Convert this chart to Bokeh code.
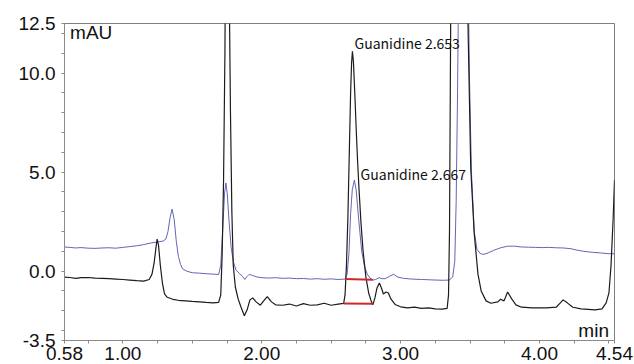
from bokeh.plotting import figure
from bokeh.models import Range1d, FixedTicker, NumeralTickFormatter, Label, ColumnDataSource
from bokeh.core.properties import value
from bokeh.embed import file_html
from bokeh.resources import INLINE

# ---- data (time in min, absorbance in mAU) ----
black_trace = [
    (0.58, -0.30), (0.62, -0.32), (0.66, -0.36), (0.70, -0.33), (0.75, -0.32), (0.80, -0.35),
    (0.85, -0.36), (0.90, -0.38), (0.95, -0.40), (1.00, -0.42), (1.05, -0.45), (1.10, -0.48),
    (1.15, -0.50), (1.19, -0.42), (1.21, -0.15), (1.225, 0.40), (1.237, 1.10), (1.247, 1.62),
    (1.257, 1.30), (1.27, 0.30), (1.285, -0.60), (1.30, -1.15), (1.32, -1.32), (1.36, -1.42),
    (1.40, -1.47), (1.45, -1.50), (1.50, -1.53), (1.55, -1.55), (1.60, -1.58), (1.65, -1.60),
    (1.69, -1.58), (1.705, -1.20), (1.715, 0.80), (1.725, 4.50), (1.735, 11.0), (1.75, 28.0),
    (1.765, 15.0), (1.775, 8.0), (1.785, 3.0), (1.795, 0.30), (1.81, -0.80), (1.83, -1.40),
    (1.85, -1.80), (1.875, -2.25), (1.895, -1.95), (1.915, -1.45), (1.935, -1.35), (1.96, -1.55),
    (1.99, -1.72), (2.02, -1.45), (2.04, -1.28), (2.07, -1.55), (2.10, -1.70), (2.15, -1.72),
    (2.20, -1.66), (2.25, -1.76), (2.30, -1.64), (2.35, -1.72), (2.40, -1.70), (2.45, -1.62),
    (2.50, -1.72), (2.55, -1.66), (2.59, -1.63), (2.60, -1.20), (2.61, 0.30), (2.62, 2.60),
    (2.63, 5.80), (2.64, 9.00), (2.647, 10.5), (2.653, 11.1), (2.66, 10.6), (2.67, 9.00),
    (2.68, 7.20), (2.69, 5.60), (2.70, 4.20), (2.715, 2.40), (2.73, 1.00), (2.75, -0.30),
    (2.77, -1.10), (2.79, -1.55), (2.80, -1.70), (2.815, -1.35), (2.83, -0.85), (2.847, -0.60),
    (2.862, -0.85), (2.876, -1.15), (2.895, -1.05), (2.912, -1.10), (2.93, -1.40), (2.96, -1.68),
    (3.00, -1.80), (3.05, -1.85), (3.10, -1.82), (3.15, -1.88), (3.20, -1.85), (3.25, -1.90),
    (3.30, -1.92), (3.335, -1.88), (3.345, -1.20), (3.352, 2.00), (3.36, 12.0), (3.375, 35.0),
    (3.42, 50.0), (3.465, 30.0), (3.485, 12.5), (3.505, 5.20), (3.53, 1.90), (3.557, -0.15),
    (3.58, -1.00), (3.615, -1.50), (3.65, -1.62), (3.70, -1.55), (3.72, -1.42), (3.745, -1.50),
    (3.77, -1.05), (3.80, -1.40), (3.83, -1.70), (3.87, -1.82), (3.95, -1.85), (4.05, -1.85),
    (4.12, -1.82), (4.15, -1.60), (4.17, -1.45), (4.20, -1.60), (4.24, -1.82), (4.30, -1.90),
    (4.40, -1.95), (4.45, -1.90), (4.48, -1.60), (4.50, -1.10), (4.515, 0.30), (4.53, 2.60),
    (4.54, 4.60),
]

blue_trace = [
    (0.58, 1.22), (0.62, 1.20), (0.66, 1.17), (0.70, 1.19), (0.75, 1.16), (0.80, 1.15),
    (0.85, 1.17), (0.90, 1.18), (0.95, 1.16), (1.00, 1.20), (1.05, 1.24), (1.10, 1.28),
    (1.15, 1.34), (1.20, 1.42), (1.25, 1.47), (1.29, 1.52), (1.31, 1.62), (1.325, 2.00),
    (1.34, 2.70), (1.355, 3.13), (1.37, 2.60), (1.385, 1.50), (1.40, 0.75), (1.415, 0.35),
    (1.43, 0.12), (1.46, 0.00), (1.50, -0.08), (1.55, -0.10), (1.60, -0.13), (1.65, -0.15),
    (1.69, -0.17), (1.705, 0.30), (1.72, 2.20), (1.732, 3.90), (1.742, 4.45), (1.752, 3.90),
    (1.765, 2.50), (1.78, 1.20), (1.795, 0.50), (1.815, 0.05), (1.84, -0.12), (1.86, -0.25),
    (1.878, -0.42), (1.893, -0.28), (1.91, -0.16), (1.935, -0.22), (1.97, -0.30), (2.00, -0.33),
    (2.05, -0.35), (2.10, -0.33), (2.15, -0.36), (2.20, -0.35), (2.25, -0.38), (2.30, -0.37),
    (2.35, -0.40), (2.40, -0.38), (2.45, -0.41), (2.50, -0.39), (2.55, -0.42), (2.60, -0.40),
    (2.615, -0.15), (2.628, 0.90), (2.64, 2.90), (2.652, 4.10), (2.667, 4.60), (2.68, 4.10),
    (2.692, 3.10), (2.705, 2.10), (2.72, 1.00), (2.74, 0.25), (2.76, -0.15), (2.78, -0.35),
    (2.80, -0.45), (2.82, -0.42), (2.845, -0.33), (2.865, -0.38), (2.89, -0.38), (2.92, -0.26),
    (2.95, -0.16), (2.98, -0.30), (3.02, -0.36), (3.08, -0.40), (3.15, -0.42), (3.22, -0.44),
    (3.30, -0.46), (3.35, -0.45), (3.375, -0.30), (3.39, 0.50), (3.40, 3.50), (3.41, 9.00),
    (3.425, 20.0), (3.45, 35.0), (3.475, 22.0), (3.495, 10.0), (3.51, 5.00), (3.53, 2.00),
    (3.55, 1.10), (3.575, 0.88), (3.60, 0.85), (3.63, 0.92), (3.67, 1.05), (3.72, 1.18),
    (3.77, 1.26), (3.82, 1.26), (3.87, 1.22), (3.92, 1.21), (3.97, 1.20), (4.02, 1.19),
    (4.07, 1.20), (4.12, 1.18), (4.17, 1.17), (4.22, 1.14), (4.27, 1.06), (4.32, 1.00),
    (4.38, 0.95), (4.44, 0.92), (4.50, 0.88), (4.54, 0.88),
]

peak_labels = ["Guanidine 2.653", "Guanidine 2.667"]
peak_rt = [2.653, 2.667]
peak_height = [11.1, 4.6]

baseline_start = [2.59, 2.60]
baseline_end = [2.80, 2.80]
baseline_y_start = [-1.63, -0.40]
baseline_y_end = [-1.65, -0.43]

x_major = [0.58, 1.00, 2.00, 3.00, 4.00, 4.54]
x_minor = [0.75, 1.25, 1.50, 1.75, 2.25, 2.50, 2.75, 3.25, 3.50, 3.75, 4.25, 4.50]
y_major = [-3.5, 0.0, 5.0, 10.0, 12.5]
y_minor = [-3, -2, -1, 1, 2, 3, 4, 6, 7, 8, 9, 11, 12]

x_unit = "min"
y_unit = "mAU"

# ---- figure ----
black_t = [p_[0] for p_ in black_trace]
black_v = [p_[1] for p_ in black_trace]
blue_t = [p_[0] for p_ in blue_trace]
blue_v = [p_[1] for p_ in blue_trace]

p = figure(width=634, height=364,
           x_range=Range1d(x_major[0], x_major[-1]),
           y_range=Range1d(y_major[0], y_major[-1]),
           output_backend="svg", toolbar_location=None,
           min_border_left=64, min_border_right=20,
           min_border_top=23, min_border_bottom=24)
p.grid.visible = False
p.background_fill_color = "white"
p.border_fill_color = "white"
p.outline_line_color = "#7f7f7f"
p.outline_line_width = 1

for ax in (p.xaxis[0], p.yaxis[0]):
    ax.axis_line_color = "#8a8a8a"
    ax.major_tick_line_color = "#8a8a8a"
    ax.minor_tick_line_color = "#8a8a8a"
    ax.major_tick_in = 0
    ax.major_tick_out = 3
    ax.minor_tick_in = 0
    ax.minor_tick_out = 3
    ax.major_label_text_font = "Liberation Sans"
    ax.major_label_text_font_size = "19px"
    ax.major_label_text_color = "#111111"

p.xaxis.ticker = FixedTicker(ticks=x_major, minor_ticks=x_minor)
p.xaxis.formatter = NumeralTickFormatter(format="0.00")
p.xaxis.major_label_standoff = 3
p.yaxis.ticker = FixedTicker(ticks=y_major, minor_ticks=y_minor)
p.yaxis.formatter = NumeralTickFormatter(format="0.0")
p.yaxis.major_label_standoff = 6

p.line(blue_t, blue_v, line_color="#6464b4", line_width=1)
p.line(black_t, black_v, line_color="#1c1c1c", line_width=1.2)

p.segment(x0=baseline_start, y0=baseline_y_start, x1=baseline_end, y1=baseline_y_end,
          line_color="#d02828", line_width=2)

lab_src = ColumnDataSource(dict(
    x=[peak_rt[0] + 0.015, peak_rt[1] + 0.045],
    y=[peak_height[0] + 0.4, peak_height[1] + 0.3],
    text=peak_labels))
p.text(x="x", y="y", text="text", source=lab_src,
       text_font=value("Noto Sans CJK KR"), text_font_size="14px",
       text_baseline="middle", text_align="left", text_color="#111111")

p.add_layout(Label(x=x_major[0] + 0.04, y=y_major[-1] + 0.1, text=y_unit,
                   text_font="Liberation Sans", text_font_size="19px",
                   text_baseline="top", text_align="left", text_color="#111111"))
p.add_layout(Label(x=x_major[-1] - 0.04, y=y_major[0] + 0.5, text=x_unit,
                   text_font="Liberation Sans", text_font_size="19px",
                   text_baseline="alphabetic", text_align="right", text_color="#111111"))

open("out.html", "w").write(file_html(p, INLINE))
